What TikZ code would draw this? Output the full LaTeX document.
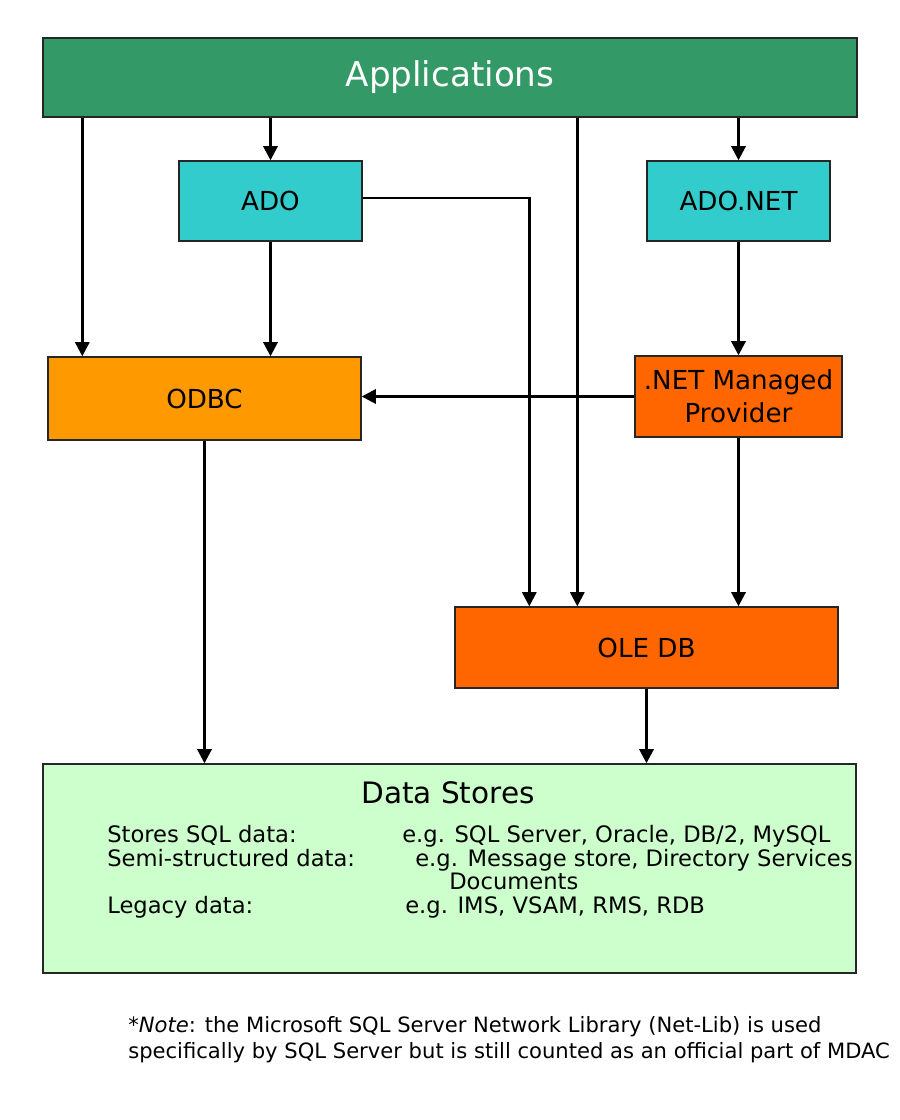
\documentclass[tikz,border=0pt]{standalone}
\usepackage{fontspec}
\setmainfont{DejaVu Sans}
\usepackage{tikz}
\usetikzlibrary{positioning,arrows.meta,calc}

\definecolor{appgreen}{HTML}{339966}
\definecolor{adocyan}{HTML}{33CCCC}
\definecolor{odbcorange}{HTML}{FF9900}
\definecolor{provorange}{HTML}{FF6600}
\definecolor{storegreen}{HTML}{CCFFCC}
\newcommand{\pxl}{0.025cm}

\begin{document}
\begin{tikzpicture}[
    x=\pxl, y=-\pxl,
    block/.style={rectangle, draw=black!85, line width=1pt, inner sep=2pt, text centered, font=\fontsize{18.6}{23.5}\selectfont},
    arrow/.style={-{Triangle[length=10pt, width=10pt]}, line width=1.9pt},
    item/.style={anchor=base west, inner sep=0pt, font=\fontsize{16.1}{17}\selectfont}
]
\useasboundingbox[fill=white] (0,0) rectangle (900,1120);

% layers
\node[block, fill=appgreen, text=white, minimum width=814*\pxl, minimum height=79*\pxl, font=\fontsize{24.3}{28}\selectfont] (apps) at (450,77.5) {Applications};
\node[block, fill=adocyan, minimum width=183*\pxl, minimum height=80*\pxl] (ado) at (270.5,201) {ADO};
\node[block, fill=adocyan, minimum width=183*\pxl, minimum height=80*\pxl] (adonet) at (738.5,201) {ADO.NET};
\node[block, fill=odbcorange, minimum width=313*\pxl, minimum height=83*\pxl] (odbc) at (204.5,398.5) {ODBC};
\node[block, fill=provorange, align=center, minimum width=207*\pxl, minimum height=81*\pxl] (netmp) at (738.5,396.5) {.NET Managed\\Provider};
\node[block, fill=provorange, minimum width=383*\pxl, minimum height=81*\pxl] (oledb) at (646.5,647.5) {OLE DB};
\node[block, fill=storegreen, minimum width=813*\pxl, minimum height=209*\pxl] (stores) at (449.5,868.5) {};

% data stores contents
\node[anchor=base, inner sep=0pt, font=\fontsize{21}{25}\selectfont] (storestitle) at (448,803) {Data Stores};
\node[item] (sqlkind) at (107,842) {Stores SQL data:};
\node[item] (sqlex) at (402,842) {e.g. SQL Server, Oracle, DB/2, MySQL};
\node[item] (semikind) at (107,866) {Semi-structured data:};
\node[item] (semiex) at (415,866) {e.g. Message store, Directory Services};
\node[item] (semidoc) at (449,889) {Documents};
\node[item] (legkind) at (107,913) {Legacy data:};
\node[item] (legex) at (405,913) {e.g. IMS, VSAM, RMS, RDB};

% footnote
\node[anchor=north west, inner sep=0pt, align=left, font=\fontsize{15}{18.5}\selectfont] (note) at (128,1016)
    {*\textit{Note}: the Microsoft SQL Server Network Library (Net-Lib) is used\\specifically by SQL Server but is still counted as an official part of MDAC};

% connectors
\coordinate (odbcin) at ($(odbc.north west)+(35,0)$);
\coordinate (oledbado) at ($(oledb.north west)+(75,0)$);
\coordinate (oledbapp) at ($(oledb.north west)+(123,0)$);

\draw[arrow] (apps.south -| odbcin) -- (odbcin);
\draw[arrow] (apps.south -| ado.north) -- (ado.north);
\draw[arrow] (apps.south -| oledbapp) -- (oledbapp);
\draw[arrow] (apps.south -| adonet.north) -- (adonet.north);
\draw[arrow] (ado.south) -- (ado.south |- odbc.north);
\draw[arrow] ([yshift=3*\pxl]ado.east) -| (oledbado);
\draw[arrow] (adonet.south) -- (netmp.north);
\draw[arrow] (netmp.west) -- (netmp.west -| odbc.east);
\draw[arrow] (netmp.south) -- (netmp.south |- oledb.north);
\draw[arrow] (odbc.south) -- (odbc.south |- stores.north);
\draw[arrow] (oledb.south) -- (oledb.south |- stores.north);
\end{tikzpicture}
\end{document}
